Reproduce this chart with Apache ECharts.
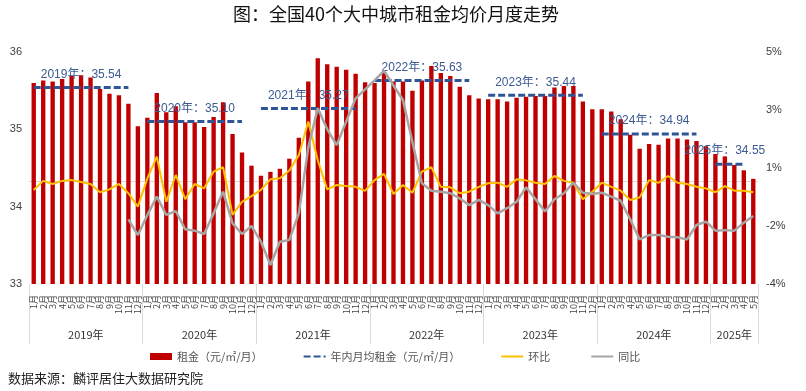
<!DOCTYPE html>
<html><head><meta charset="utf-8">
<script src="https://cdn.jsdelivr.net/npm/echarts@6/dist/echarts.min.js"></script>
<style>html,body{margin:0;padding:0;background:#fff}#c{width:806px;height:391px}</style>
</head><body><div id="c"></div>
<script>
const years = ['2019年','2020年','2021年','2022年','2023年','2024年','2025年'];
const monthsPerYear = [12,12,12,12,12,12,5];
const annualAvg = [35.54,35.10,35.27,35.63,35.44,34.94,34.55];
const rent = [
  35.60,35.63,35.62,35.65,35.69,35.70,35.67,35.52,35.46,35.44,35.33,35.04,
  35.15,35.47,35.22,35.30,35.09,35.09,35.03,35.16,35.35,34.94,34.70,34.53,
  34.40,34.45,34.49,34.62,34.89,35.62,35.92,35.84,35.81,35.77,35.72,35.61,
  35.60,35.74,35.62,35.62,35.50,35.63,35.82,35.73,35.69,35.55,35.44,35.40,
  35.39,35.39,35.36,35.41,35.42,35.43,35.43,35.54,35.56,35.56,35.36,35.26,
  35.26,35.23,35.13,34.93,34.75,34.81,34.80,34.88,34.88,34.87,34.85,34.78,
  34.68,34.65,34.54,34.47,34.36
];
const mom = [
  -0.35,0.00,-0.12,0.00,0.03,-0.04,-0.12,-0.44,-0.33,-0.12,-0.48,-1.00,
  0.10,0.94,-0.81,0.23,-0.71,-0.12,-0.29,0.36,0.53,-1.32,-0.81,-0.59,
  -0.35,0.06,0.10,0.40,1.00,2.30,0.80,-0.33,-0.16,-0.20,-0.23,-0.39,
  0.03,0.27,-0.51,-0.16,-0.46,0.36,0.53,-0.23,-0.25,-0.48,-0.42,-0.23,
  -0.09,-0.07,-0.23,0.06,0.02,-0.07,-0.12,0.19,0.00,-0.07,-0.71,-0.42,
  -0.07,-0.23,-0.38,-0.74,-0.64,0.03,-0.07,0.19,-0.07,-0.12,-0.23,-0.29,
  -0.44,-0.20,-0.38,-0.38,-0.44
];
const yoy = [
  null,null,null,null,null,null,null,null,null,null,-1.49,-2.10,
  -1.32,-0.61,-1.32,-1.17,-1.88,-1.93,-2.06,-1.26,-0.42,-1.65,-2.06,-1.75,
  -2.36,-3.26,-2.36,-2.29,-1.26,1.30,2.82,2.00,1.39,2.30,3.20,3.55,
  3.90,4.27,3.70,3.14,1.50,-0.09,-0.38,-0.42,-0.48,-0.68,-0.94,-0.74,
  -0.94,-1.26,-1.06,-0.81,-0.25,-0.71,-1.19,-0.71,-0.48,-0.07,-0.46,-0.51,
  -0.46,-0.61,-0.77,-1.49,-2.27,-2.10,-2.10,-2.17,-2.19,-2.27,-1.71,-1.58,
  -1.93,-1.91,-1.93,-1.62,-1.36
];
const leftTicks = [33,34,35,36];
const rightTickValues = [-4,-1.75,0.5,2.75,5];
const rightTickLabels = ['-4%','-2%','1%','3%','5%'];
const seriesNames = ['租金（元/㎡/月）','年内月均租金（元/㎡/月）','环比','同比'];

const monthLabels = [], yearStart = [];
let k = 0;
years.forEach((y, yi) => { yearStart.push(k); for (let m = 1; m <= monthsPerYear[yi]; m++) { monthLabels.push(m + '月'); k++; } });
const total = k;
const yearBounds = yearStart.concat([total]);
const yearCenters = yearStart.map((s, i) => s + monthsPerYear[i] / 2);

const avgLine = new Array(total).fill(null);
years.forEach((y, yi) => {
  const span = monthsPerYear[yi] - 1, s = yearStart[yi], mid = Math.floor((span - 1) / 2);
  for (let j = 0; j < span; j++) {
    avgLine[s + j] = j === mid
      ? { value: annualAvg[yi], symbol: 'circle', symbolSize: 0,
          label: { show: true, formatter: y + '：' + annualAvg[yi].toFixed(2) } }
      : annualAvg[yi];
  }
});

const CJK = '"Noto Sans CJK SC", "Liberation Sans", sans-serif';
const LAT = '"Liberation Sans", "Noto Sans CJK SC", sans-serif';
const noDot = { opacity: 0 };

const chart = echarts.init(document.getElementById('c'), null, { renderer: 'canvas' });
chart.setOption({
  backgroundColor: '#fff',
  animation: false,
  title: [
    { text: '图：全国40个大中城市租金均价月度走势', left: 228, top: 0,
      textStyle: { fontSize: 18, fontWeight: 'normal', color: '#111', fontFamily: CJK } },
    { text: '数据来源：麟评居住大数据研究院', left: 3, top: 367,
      textStyle: { fontSize: 13, fontWeight: 'normal', color: '#222', fontFamily: CJK } }
  ],
  legend: {
    data: [
      { name: seriesNames[0], icon: 'rect' },
      { name: seriesNames[1], itemStyle: noDot },
      { name: seriesNames[2], itemStyle: noDot },
      { name: seriesNames[3], itemStyle: noDot }
    ],
    left: 145, top: 346, itemWidth: 22, itemHeight: 7, itemGap: 40,
    textStyle: { fontSize: 11, color: '#555', fontFamily: CJK }
  },
  grid: { left: 29, right: 48, top: 52, bottom: 107 },
  xAxis: [
    { type: 'category', data: monthLabels, boundaryGap: true,
      axisLine: { show: true, lineStyle: { color: '#D9D9D9' } },
      axisTick: { show: false },
      axisLabel: { interval: 0, rotate: 90, fontSize: 9, color: '#444', margin: 11, fontFamily: CJK } },
    { type: 'value', min: 0, max: total, position: 'bottom',
      axisLine: { show: false },
      splitLine: { show: false },
      axisTick: { show: true, customValues: yearBounds, length: 60, lineStyle: { color: '#D9D9D9' } },
      axisLabel: { customValues: yearCenters, margin: 45, fontSize: 11, color: '#333', fontFamily: CJK,
        formatter: v => years[yearCenters.indexOf(v)] || '' } }
  ],
  yAxis: [
    { type: 'value', min: leftTicks[0], max: leftTicks[leftTicks.length - 1], interval: 1,
      axisLine: { show: false }, axisTick: { show: false }, splitLine: { show: false },
      axisLabel: { fontSize: 11, color: '#404040', margin: 7, fontFamily: LAT } },
    { type: 'value', min: rightTickValues[0], max: rightTickValues[rightTickValues.length - 1],
      axisLine: { show: false }, axisTick: { show: false }, splitLine: { show: false },
      axisLabel: { customValues: rightTickValues, fontSize: 11, color: '#404040', margin: 8, fontFamily: LAT,
        formatter: v => rightTickLabels[rightTickValues.indexOf(v)] || '' } }
  ],
  series: [
    { name: seriesNames[0], type: 'bar', data: rent, barWidth: '46%', itemStyle: { color: '#C00000' }, z: 1 },
    { name: seriesNames[1], type: 'line', data: avgLine, symbol: 'none', connectNulls: false,
      lineStyle: { color: '#2F5597', width: 3, type: [7, 3] }, itemStyle: { color: '#2F5597' },
      label: { show: false, position: 'top', distance: 7, fontSize: 12, color: '#3B5B92', fontFamily: LAT },
      z: 3 },
    { name: seriesNames[2], type: 'line', yAxisIndex: 1, data: mom, symbol: 'none',
      lineStyle: { color: '#FFC000', width: 2 }, itemStyle: { color: '#FFC000' }, z: 4 },
    { name: seriesNames[3], type: 'line', yAxisIndex: 1, data: yoy, symbol: 'none',
      lineStyle: { color: '#A5A5A5', width: 2.5 }, itemStyle: { color: '#A5A5A5' }, z: 5 }
  ]
});
</script></body></html>
